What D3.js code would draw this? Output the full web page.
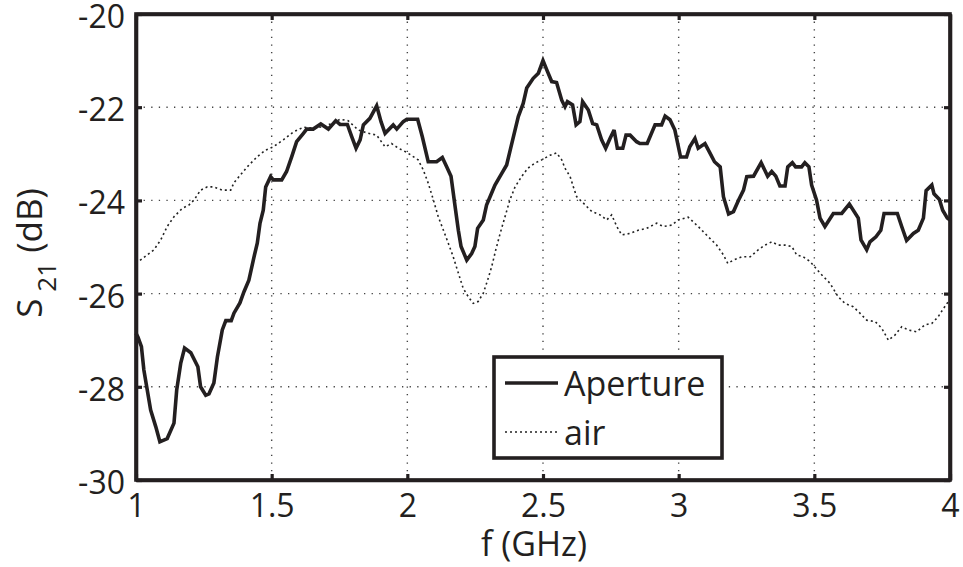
<!DOCTYPE html>
<html>
<head>
<meta charset="utf-8">
<script src="https://cdn.jsdelivr.net/npm/d3@7/dist/d3.min.js"></script>
<style>
  html, body { margin: 0; padding: 0; background: #fff; }
  svg { display: block; }
  text { font-family: "Open Sans", "Noto Sans", sans-serif; fill: #231f20; }
</style>
</head>
<body>
<svg id="chart" width="963" height="567"></svg>
<script>
// Frequency axis ticks (GHz) and S21 axis ticks (dB)
const xTicks = [1, 1.5, 2, 2.5, 3, 3.5, 4];
const yTicks = [-30, -28, -26, -24, -22, -20];

// Measured S21 through the aperture: [frequency GHz, dB]
const apertureFreq = [1.0, 1.007, 1.02, 1.029, 1.054, 1.073, 1.088, 1.115, 1.14, 1.15, 1.165, 1.179, 1.202, 1.228, 1.238, 1.257, 1.269, 1.287, 1.3, 1.318, 1.331, 1.351, 1.361, 1.383, 1.398, 1.416, 1.435, 1.447, 1.457, 1.469, 1.478, 1.496, 1.506, 1.537, 1.555, 1.574, 1.592, 1.617, 1.629, 1.653, 1.681, 1.709, 1.736, 1.752, 1.779, 1.795, 1.811, 1.826, 1.838, 1.862, 1.887, 1.903, 1.918, 1.948, 1.961, 1.985, 1.998, 2.038, 2.055, 2.077, 2.108, 2.129, 2.145, 2.161, 2.176, 2.188, 2.198, 2.219, 2.237, 2.249, 2.259, 2.28, 2.292, 2.308, 2.323, 2.348, 2.366, 2.382, 2.409, 2.427, 2.44, 2.464, 2.483, 2.5, 2.514, 2.532, 2.55, 2.569, 2.581, 2.59, 2.609, 2.622, 2.636, 2.646, 2.667, 2.683, 2.698, 2.716, 2.731, 2.747, 2.762, 2.774, 2.794, 2.806, 2.821, 2.845, 2.857, 2.884, 2.913, 2.937, 2.95, 2.968, 2.986, 3.007, 3.029, 3.041, 3.06, 3.072, 3.097, 3.116, 3.132, 3.153, 3.165, 3.184, 3.202, 3.221, 3.239, 3.251, 3.276, 3.304, 3.328, 3.343, 3.358, 3.373, 3.392, 3.402, 3.419, 3.431, 3.453, 3.465, 3.48, 3.49, 3.508, 3.521, 3.539, 3.57, 3.601, 3.629, 3.662, 3.672, 3.693, 3.705, 3.727, 3.745, 3.757, 3.806, 3.822, 3.84, 3.865, 3.883, 3.902, 3.912, 3.933, 3.941, 3.961, 3.973, 3.99, 4.0];
const apertureDb = [-26.85, -26.93, -27.14, -27.64, -28.5, -28.86, -29.18, -29.11, -28.78, -28.07, -27.49, -27.17, -27.27, -27.57, -28.0, -28.18, -28.15, -27.92, -27.36, -26.78, -26.58, -26.58, -26.42, -26.2, -25.96, -25.71, -25.21, -24.92, -24.49, -24.21, -23.71, -23.49, -23.56, -23.56, -23.38, -23.06, -22.74, -22.56, -22.47, -22.47, -22.36, -22.47, -22.29, -22.37, -22.37, -22.63, -22.88, -22.7, -22.38, -22.24, -21.97, -22.31, -22.56, -22.38, -22.47, -22.31, -22.26, -22.26, -22.63, -23.17, -23.17, -23.08, -23.28, -23.48, -24.13, -24.64, -24.99, -25.28, -25.14, -24.99, -24.6, -24.42, -24.1, -23.88, -23.67, -23.42, -23.24, -22.85, -22.2, -21.92, -21.59, -21.38, -21.27, -21.0, -21.2, -21.45, -21.47, -21.85, -21.99, -21.88, -21.95, -22.38, -22.31, -21.88, -22.06, -22.35, -22.38, -22.7, -22.88, -22.67, -22.49, -22.88, -22.88, -22.6, -22.6, -22.74, -22.78, -22.78, -22.38, -22.38, -22.19, -22.27, -22.49, -23.07, -23.07, -22.85, -22.67, -22.88, -22.78, -22.99, -23.17, -23.28, -23.92, -24.29, -24.24, -23.99, -23.78, -23.49, -23.48, -23.19, -23.48, -23.38, -23.48, -23.69, -23.69, -23.28, -23.19, -23.28, -23.28, -23.19, -23.28, -23.67, -23.99, -24.38, -24.56, -24.28, -24.28, -24.08, -24.38, -24.85, -25.06, -24.89, -24.78, -24.64, -24.28, -24.28, -24.56, -24.86, -24.71, -24.64, -24.38, -23.79, -23.67, -23.86, -23.98, -24.21, -24.38, -24.42];

// Reference S21 in air: [frequency GHz, dB]
const airFreq = [1.0, 1.007, 1.066, 1.091, 1.115, 1.14, 1.171, 1.195, 1.214, 1.238, 1.263, 1.287, 1.318, 1.349, 1.361, 1.41, 1.447, 1.478, 1.506, 1.543, 1.58, 1.617, 1.653, 1.69, 1.721, 1.752, 1.782, 1.819, 1.856, 1.887, 1.918, 1.942, 1.967, 1.998, 2.04, 2.059, 2.077, 2.096, 2.114, 2.133, 2.151, 2.169, 2.188, 2.206, 2.225, 2.243, 2.261, 2.28, 2.296, 2.311, 2.326, 2.342, 2.36, 2.378, 2.397, 2.421, 2.444, 2.47, 2.495, 2.526, 2.55, 2.569, 2.581, 2.6, 2.612, 2.624, 2.649, 2.68, 2.71, 2.735, 2.753, 2.772, 2.79, 2.821, 2.851, 2.882, 2.919, 2.943, 2.974, 2.998, 3.035, 3.072, 3.109, 3.14, 3.165, 3.181, 3.202, 3.233, 3.264, 3.293, 3.318, 3.343, 3.367, 3.392, 3.417, 3.435, 3.459, 3.484, 3.496, 3.521, 3.558, 3.588, 3.613, 3.643, 3.668, 3.693, 3.724, 3.748, 3.773, 3.797, 3.822, 3.846, 3.877, 3.908, 3.933, 3.956, 3.976, 3.994];
const airDb = [-25.35, -25.32, -25.06, -24.85, -24.56, -24.35, -24.17, -24.1, -23.99, -23.78, -23.71, -23.71, -23.78, -23.78, -23.62, -23.28, -23.06, -22.92, -22.85, -22.7, -22.53, -22.43, -22.45, -22.42, -22.35, -22.26, -22.29, -22.49, -22.56, -22.6, -22.85, -22.78, -22.88, -22.97, -23.13, -23.35, -23.63, -23.99, -24.35, -24.64, -24.92, -25.21, -25.56, -25.89, -26.07, -26.21, -26.17, -25.99, -25.71, -25.42, -25.06, -24.71, -24.35, -23.99, -23.71, -23.49, -23.31, -23.2, -23.13, -23.03, -22.98, -23.13, -23.31, -23.49, -23.71, -23.92, -24.06, -24.24, -24.31, -24.42, -24.31, -24.56, -24.74, -24.71, -24.64, -24.6, -24.49, -24.56, -24.53, -24.42, -24.36, -24.56, -24.78, -24.96, -25.17, -25.35, -25.28, -25.21, -25.21, -25.06, -24.96, -24.89, -24.96, -24.96, -24.99, -25.17, -25.21, -25.31, -25.39, -25.56, -25.78, -26.07, -26.21, -26.28, -26.42, -26.57, -26.6, -26.74, -27.0, -26.89, -26.71, -26.78, -26.82, -26.67, -26.64, -26.5, -26.32, -26.17];

const seriesNames = ["Aperture", "air"];

const INK = "#231f20";
const svg = d3.select("#chart");
const plot = { left: 136, right: 950, top: 14, bottom: 480 };

const x = d3.scaleLinear().domain([1, 4]).range([plot.left, plot.right]);
const y = d3.scaleLinear().domain([-30, -20]).range([plot.bottom, plot.top]);

// tick labels use a plain hyphen-minus
const fmt = d => String(d);

// Dotted grid
const grid = svg.append("g").attr("class", "grid");
grid.selectAll("line.v").data(xTicks.slice(1, -1)).join("line")
  .attr("x1", d => x(d)).attr("x2", d => x(d))
  .attr("y1", plot.top).attr("y2", plot.bottom)
  .attr("stroke", "#444").attr("stroke-width", 1.4)
  .attr("stroke-dasharray", "1.3,6.3");
grid.selectAll("line.h").data(yTicks.slice(1, -1)).join("line")
  .attr("x1", plot.left).attr("x2", plot.right)
  .attr("y1", d => y(d)).attr("y2", d => y(d))
  .attr("stroke", "#444").attr("stroke-width", 1.4)
  .attr("stroke-dasharray", "1.3,6.3");

// Curves
const line = d3.line().x(d => x(d[0])).y(d => y(d[1]));
const airPts = airFreq.map((f, i) => [f, airDb[i]]);
const apPts = apertureFreq.map((f, i) => [f, apertureDb[i]]);

svg.append("path").datum(airPts)
  .attr("d", line)
  .attr("fill", "none").attr("stroke", "#222")
  .attr("stroke-width", 1.6)
  .attr("stroke-dasharray", "2,3");

svg.append("path").datum(apPts)
  .attr("d", line)
  .attr("fill", "none").attr("stroke", INK)
  .attr("stroke-width", 3.6)
  .attr("stroke-linejoin", "miter").attr("stroke-miterlimit", 3);

// Axes: ticks point inward on all four sides
function styleAxis(g) {
  g.select(".domain").attr("stroke", INK).attr("stroke-width", 3.6);
  g.selectAll(".tick line").attr("stroke", INK).attr("stroke-width", 3.2);
  g.selectAll(".tick text").attr("fill", INK)
    .style("font-size", "32px").style("font-family", "'Open Sans', sans-serif");
}
const xAxis = svg.append("g").attr("transform", `translate(0,${plot.bottom})`)
  .call(d3.axisBottom(x).tickValues(xTicks).tickFormat(fmt).tickSize(-6).tickSizeOuter(0).tickPadding(14));
styleAxis(xAxis);
const xTop = svg.append("g").attr("transform", `translate(0,${plot.top})`)
  .call(d3.axisTop(x).tickValues(xTicks).tickFormat("").tickSize(-6).tickSizeOuter(0));
styleAxis(xTop);
const yAxis = svg.append("g").attr("transform", `translate(${plot.left},0)`)
  .call(d3.axisLeft(y).tickValues(yTicks).tickFormat(fmt).tickSize(-6).tickSizeOuter(0).tickPadding(11));
styleAxis(yAxis);
yAxis.selectAll(".tick text").attr("dy", "0.42em");
const yRight = svg.append("g").attr("transform", `translate(${plot.right},0)`)
  .call(d3.axisRight(y).tickValues(yTicks).tickFormat("").tickSize(-6).tickSizeOuter(0));
styleAxis(yRight);
// close the frame corners cleanly
svg.append("rect")
  .attr("x", plot.left).attr("y", plot.top)
  .attr("width", plot.right - plot.left).attr("height", plot.bottom - plot.top)
  .attr("fill", "none").attr("stroke", INK).attr("stroke-width", 3.6);

// Axis titles
svg.append("text")
  .attr("x", 534).attr("y", 556)
  .attr("text-anchor", "middle")
  .style("font-size", "34px")
  .text("f (GHz)");

const yl = svg.append("text")
  .attr("transform", "translate(42,253) rotate(-90)")
  .attr("text-anchor", "middle")
  .style("font-size", "35px");
yl.append("tspan").text("S");
yl.append("tspan").attr("dy", 14).attr("dx", 7).style("font-size", "26px").text("21");
yl.append("tspan").attr("dy", -14).text("\u00a0(dB)");

// Legend
const legend = svg.append("g");
legend.append("rect")
  .attr("x", 494).attr("y", 357).attr("width", 228).attr("height", 101)
  .attr("fill", "#fff").attr("stroke", INK).attr("stroke-width", 3.6);
const legendRows = [
  { name: seriesNames[0], yy: 383, width: 3.6, dash: null, color: INK },
  { name: seriesNames[1], yy: 432, width: 1.6, dash: "2,3", color: "#222" }
];
legendRows.forEach(r => {
  legend.append("line")
    .attr("x1", 505).attr("x2", 558).attr("y1", r.yy).attr("y2", r.yy)
    .attr("stroke", r.color).attr("stroke-width", r.width)
    .attr("stroke-dasharray", r.dash);
  legend.append("text")
    .attr("x", 564).attr("y", r.yy + 13)
    .style("font-size", "34px")
    .text(r.name);
});
</script>
</body>
</html>
